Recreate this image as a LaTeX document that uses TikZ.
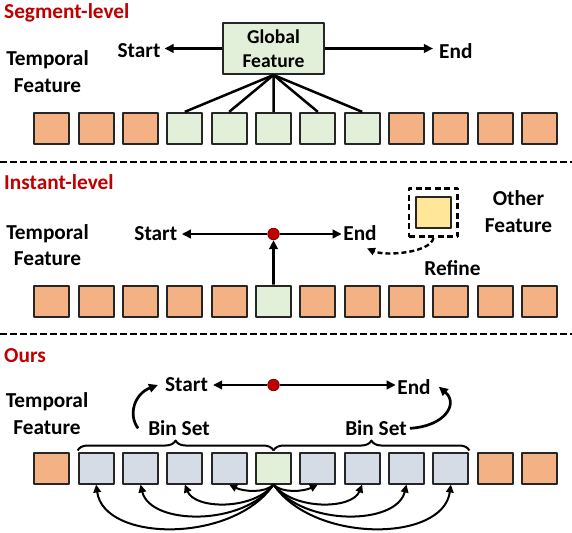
\documentclass[tikz,border=0pt]{standalone}
\usepackage{fontspec}
\setmainfont{Carlito}
\usepackage{tikz}
\usetikzlibrary{arrows.meta,decorations.pathreplacing}
\definecolor{orgfill}{HTML}{F4B183}
\definecolor{grnfill}{HTML}{E2F0D9}
\definecolor{blufill}{HTML}{D6DCE5}
\definecolor{yelfill}{HTML}{FFE699}
\definecolor{ttlred}{HTML}{C00000}
\newcommand{\lblfont}{\fontsize{21.3}{26.5}\selectfont\bfseries}
\newcommand{\boxfont}{\fontsize{19.6}{23.5}\selectfont\bfseries}
\tikzset{cell/.style={draw=black!85,line width=2pt,minimum width=35pt,minimum height=31pt,inner sep=0pt},
  org/.style={cell,fill=orgfill}, grn/.style={cell,fill=grnfill}, blu/.style={cell,fill=blufill},
  lbl/.style={font=\lblfont,inner sep=0pt,align=center},
  ttl/.style={font=\lblfont,text=ttlred,inner sep=0pt,anchor=base west},
  divline/.style={line width=2.6pt,dash pattern=on 6.5pt off 3.5pt},
  arr/.style={line width=2.7pt,-{Triangle[length=9pt,width=8.5pt]}},
  arcarr/.style={line width=2pt,-{Triangle[length=8pt,width=7.5pt]}},
  rdot/.style={circle,fill=ttlred,draw=ttlred!70!black,line width=0.8pt,minimum size=11.5pt,inner sep=0pt},
  brc/.style={decorate,decoration={brace,amplitude=10pt},line width=2pt}}

\begin{document}
\begin{tikzpicture}[x=1pt,y=-1pt,line join=round]
\useasboundingbox (0,0) rectangle (572,532);
% --- segment-level
\node[ttl] (t1) at (4,18.6) {Segment-level};
\node[lbl] (tf1) at (47.5,71.5) {Temporal\\Feature};
\foreach \c [count=\i from 0] in {org,org,org,grn,grn,grn,grn,grn,org,org,org,org}
  \node[\c] (a\i) at ({51.8+44.34*\i},128.35) {};
\node[grn,lbl,font=\boxfont,minimum width=101pt,minimum height=51pt] (glob) at (273.5,48.5) {Global\\Feature};
\node[lbl] (st1) at (139,50.5) {Start};
\node[lbl] (en1) at (455.8,51) {End};
\draw[arr,shorten >=4pt] (glob.west) -- (glob.west -| st1.east);
\draw[arr,shorten >=6pt] (glob.east) -- (glob.east -| en1.west);
\foreach \i in {3,...,7} \draw[line width=2.5pt] (glob.south) -- (a\i.north);
\draw[divline] (0,162) -- (572,162);
% --- instant-level
\node[ttl] (t2) at (4,189.2) {Instant-level};
\node[lbl] (tf2) at (47.5,245) {Temporal\\Feature};
\foreach \c [count=\i from 0] in {org,org,org,org,org,grn,org,org,org,org,org,org}
  \node[\c] (b\i) at ({51.8+44.34*\i},301.2) {};
\node[rdot] (dot2) at (273.5,234) {};
\node[lbl] (st2) at (155.8,233.3) {Start};
\node[lbl] (en2) at (360,233) {End};
\draw[arr] (b5.north) -- (dot2.south);
\draw[arr,shorten >=4.5pt] (dot2.west) -- (dot2.west -| st2.east);
\draw[arr,shorten >=1.5pt] (dot2.east) -- (dot2.east -| en2.west);
\node[draw,line width=2.6pt,dash pattern=on 6pt off 3.5pt,minimum width=48.7pt,minimum height=48.4pt,inner sep=0pt] (oth) at (433.4,212.5) {};
\node[cell,fill=yelfill] (yel) at (433.4,212.2) {};
\node[lbl] (othl) at (518.5,211.7) {Other\\Feature};
\node[lbl] (refl) at (452.5,268.3) {Refine};
\coordinate (rtip) at (367,248.3);
\draw[arcarr,line width=2.4pt,dash pattern=on 5pt off 3pt] (oth.south) .. controls +(-3,15) and +(18,8) .. (rtip);
\draw[divline] (0,334) -- (572,334);
% --- ours
\node[ttl] (t3) at (4,362) {Ours};
\node[lbl] (tf3) at (47,413.5) {Temporal\\Feature};
\foreach \c [count=\i from 0] in {org,blu,blu,blu,blu,grn,blu,blu,blu,blu,org,org}
  \node[\c] (c\i) at ({51.8+44.34*\i},468) {};
\node[rdot] (dot3) at (273.5,385) {};
\node[lbl] (st3) at (186.5,385) {Start};
\node[lbl] (en3) at (414,386.7) {End};
\draw[arr,shorten >=5pt] (dot3.west) -- (dot3.west -| st3.east);
\draw[arr,shorten >=1.5pt] (dot3.east) -- (dot3.east -| en3.west);
\node[lbl] (bin1) at (179,428.3) {Bin Set};
\node[lbl] (bin2) at (376,428.3) {Bin Set};
\draw[brc] ([yshift=1pt]c1.north west) -- ([yshift=1pt]c5.north);
\draw[brc] ([yshift=1pt]c5.north) -- ([yshift=1pt]c9.north east);
\draw[arr] ([xshift=-10pt]bin1.west) .. controls +(-10,-13) and +(-24,9) .. ([xshift=-7pt]st3.west);
\draw[arr] ([xshift=3pt]bin2.east) .. controls +(35,-2) and +(20,17) .. ([xshift=8pt]en3.east);
\foreach \k/\dx/\dy/\ex/\ey in {4/-8/9/14/7,3/-20/26/10/25,2/-30/42/10/41,1/-40/59/8/58,
    6/8/9/-14/7,7/20/26/-10/25,8/30/42/-10/41,9/40/59/-8/58}
  \draw[arcarr] (c5.south) .. controls +(\dx,\dy) and +(\ex,\ey) .. (c\k.south);
\end{tikzpicture}
\end{document}
